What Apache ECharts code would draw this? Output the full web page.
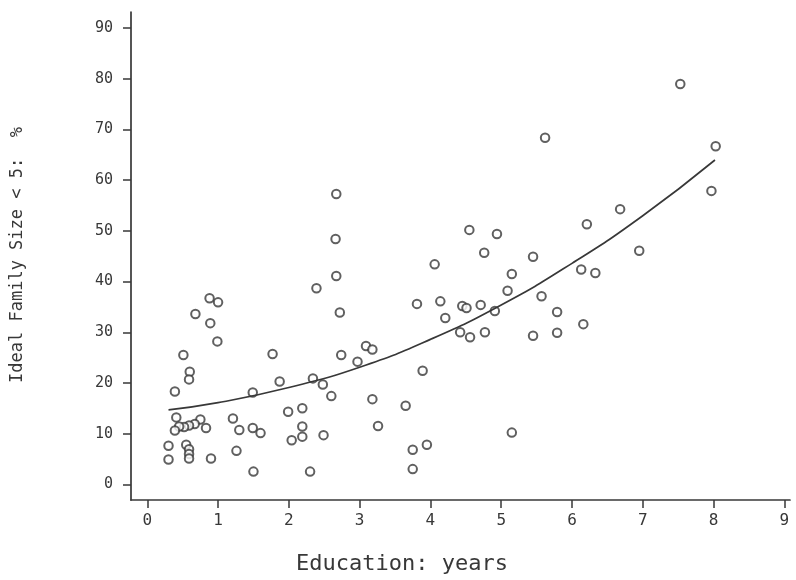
<!DOCTYPE html>
<html>
<head>
<meta charset="utf-8">
<script src="https://cdn.jsdelivr.net/npm/echarts@6/dist/echarts.min.js"></script>
<style>html,body{margin:0;padding:0;background:#fff;}#chart{width:796px;height:580px;}</style>
</head>
<body>
<div id="chart"></div>
<script>
// Scatter points: education (years) and % wanting ideal family size < 5
const educationYears = [
  0.99, 0.51, 1.77, 0.60, 0.59, 0.39, 1.87, 1.49, 2.34, 2.48, 2.60, 2.74,
  1.99, 2.19, 0.41, 0.75, 0.67, 0.59, 0.52, 0.45, 0.39, 0.83, 1.21, 1.30,
  1.49, 1.60, 2.19, 2.19, 2.04, 2.49, 0.30, 0.55, 0.59, 0.59, 0.59, 0.30,
  0.90, 1.26, 1.50, 2.30,
  2.67, 2.66, 2.67, 2.39, 2.72, 0.88, 1.00, 0.68, 0.89,
  4.55, 4.94, 4.76, 4.06, 5.45, 5.15, 5.09, 5.57, 3.81, 4.14, 4.45, 4.51,
  4.71, 4.91, 4.21, 4.42, 4.56, 4.77, 5.45,
  3.09, 3.18, 2.97, 3.89, 3.18, 3.65, 3.26, 5.15, 3.95, 3.75, 3.75,
  7.53, 5.62, 8.03, 7.97, 6.68, 6.21, 6.95,
  6.13, 6.33, 5.79, 6.16, 5.79
];
const idealSizePct = [
  28.2, 25.5, 25.7, 22.2, 20.7, 18.3, 20.3, 18.1, 20.9, 19.7, 17.4, 25.5,
  14.3, 15.0, 13.2, 12.8, 11.9, 11.6, 11.3, 11.4, 10.6, 11.1, 13.0, 10.7,
  11.1, 10.1, 11.4, 9.4, 8.7, 9.7, 7.6, 7.8, 6.9, 6.0, 5.1, 4.9,
  5.1, 6.6, 2.5, 2.5,
  57.3, 48.4, 41.1, 38.7, 33.9, 36.7, 35.9, 33.6, 31.8,
  50.2, 49.4, 45.7, 43.4, 44.9, 41.5, 38.2, 37.1, 35.6, 36.1, 35.2, 34.8,
  35.4, 34.2, 32.8, 30.0, 29.0, 30.0, 29.3,
  27.3, 26.6, 24.2, 22.4, 16.8, 15.5, 11.5, 10.2, 7.8, 6.8, 3.0,
  79.0, 68.4, 66.7, 57.9, 54.3, 51.3, 46.1,
  42.4, 41.7, 34.0, 31.6, 29.9
];
// Fitted curve
const curveX = [0.30, 1, 2, 3, 4, 5, 6, 7, 8.02];
const curveY = [14.7, 16.1, 19.1, 23.1, 28.6, 35.4, 43.6, 53.0, 64.0];
// Tick values
const xTicks = [0, 1, 2, 3, 4, 5, 6, 7, 8, 9];
const yTicks = [0, 10, 20, 30, 40, 50, 60, 70, 80, 90];

const ink = '#383838';
const mono = '"DejaVu Sans Mono", "Liberation Mono", monospace';

const chart = echarts.init(document.getElementById('chart'), null, {renderer: 'canvas'});
chart.setOption({
  backgroundColor: '#ffffff',
  animation: false,
  grid: {left: 131, top: 12, right: 6, bottom: 80, containLabel: false},
  xAxis: {
    type: 'value', min: -0.23, max: 9.08,
    splitLine: {show: false},
    axisLine: {onZero: false, lineStyle: {color: ink, width: 1.7}},
    axisTick: {show: true, length: 8, inside: false, customValues: xTicks, lineStyle: {color: ink, width: 1.5}},
    axisLabel: {customValues: xTicks, margin: 13, color: ink, fontFamily: mono, fontSize: 16}
  },
  yAxis: {
    type: 'value', min: -3.1, max: 93.2,
    splitLine: {show: false},
    axisLine: {onZero: false, lineStyle: {color: ink, width: 1.7}},
    axisTick: {show: true, length: 8, inside: false, customValues: yTicks, lineStyle: {color: ink, width: 1.5}},
    axisLabel: {customValues: yTicks, margin: 18, color: ink, fontFamily: mono, fontSize: 15}
  },
  graphic: [
    {type: 'text', left: 296, top: 553,
     style: {text: 'Education: years', font: '22px ' + mono, fill: ink}},
    {type: 'text', x: 18, y: 255, rotation: Math.PI / 2,
     style: {text: 'Ideal Family Size < 5:  %', font: '17px ' + mono, fill: ink, align: 'center', verticalAlign: 'middle'}}
  ],
  series: [
    {
      type: 'scatter',
      data: educationYears.map((x, i) => [x, idealSizePct[i]]),
      symbol: 'emptyCircle', symbolSize: 8.5,
      itemStyle: {color: ink, borderColor: ink, borderWidth: 1.6}
    },
    {
      type: 'line',
      data: curveX.map((x, i) => [x, curveY[i]]),
      smooth: true, showSymbol: false,
      lineStyle: {color: ink, width: 1.7}
    }
  ]
});
</script>
</body>
</html>
